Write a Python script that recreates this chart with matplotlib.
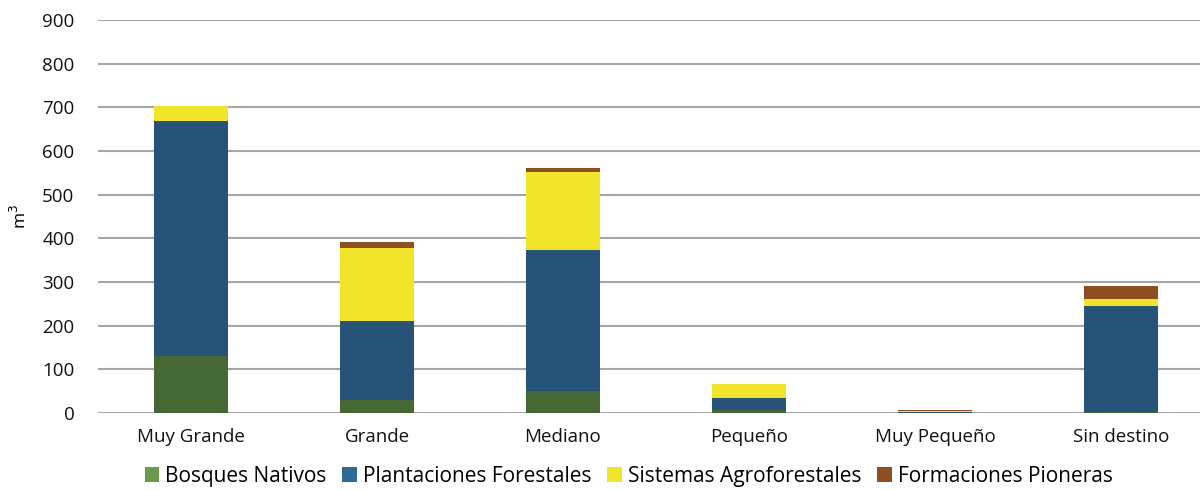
import matplotlib
matplotlib.use("Agg")
import matplotlib.pyplot as plt
from matplotlib.patches import Patch
import numpy as np

categories = ["Muy Grande", "Grande", "Mediano", "Pequeño", "Muy Pequeño", "Sin destino"]
bosques_nativos = [130, 30, 50, 8, 1, 3]
plantaciones_forestales = [539, 181, 323, 27, 1, 242]
sistemas_agroforestales = [34, 167, 179, 31, 3, 15]
formaciones_pioneras = [1, 14, 9, 1, 1, 31]
series_names = ["Bosques Nativos", "Plantaciones Forestales", "Sistemas Agroforestales", "Formaciones Pioneras"]
y_ticks = [0, 100, 200, 300, 400, 500, 600, 700, 800, 900]

bar_colors = ["#466834", "#285378", "#f1e52b", "#8e4e20"]
legend_colors = ["#6a9a4c", "#2e6a94", "#efe52a", "#8f4f22"]

plt.rcParams['font.family'] = ['Open Sans', 'DejaVu Sans']

fig = plt.figure(figsize=(12, 4.9), dpi=100)
ax = fig.add_axes([98/1200, 77/490, 1 - 98/1200, 393/490])

x = np.arange(len(categories))
width = 0.4
bottom = np.zeros(len(categories))
for vals, col in zip([bosques_nativos, plantaciones_forestales, sistemas_agroforestales, formaciones_pioneras], bar_colors):
    ax.bar(x, vals, width, bottom=bottom, color=col, edgecolor="none", zorder=3)
    bottom += np.array(vals)

ax.set_xlim(-0.5, 5.425)
ax.set_ylim(0, 900)
ax.set_yticks(y_ticks)
ax.set_yticklabels([str(v) for v in y_ticks], fontsize=13.5, color="#111111")
ax.set_xticks(x)
ax.set_xticklabels(categories, fontsize=13.5, color="#111111")
ax.tick_params(axis="y", length=0, pad=17)
ax.tick_params(axis="x", length=0, pad=11)
ax.grid(axis="y", color="#a6a6a6", linewidth=1.5, zorder=0)
for s in ax.spines.values():
    s.set_visible(False)
ax.set_ylabel("m$^3$", fontsize=12.5)
ax.yaxis.set_label_coords(-0.062, 0.5)

handles = [Patch(facecolor=c, edgecolor="none") for c in legend_colors]
fig.legend(handles, series_names, loc="center", bbox_to_anchor=(0.524, 0.028),
           ncol=4, frameon=False, fontsize=15, handlelength=0.7, handleheight=0.7,
           handletextpad=0.3, columnspacing=0.75, borderpad=0.1)

fig.savefig("out.png", dpi=100)
